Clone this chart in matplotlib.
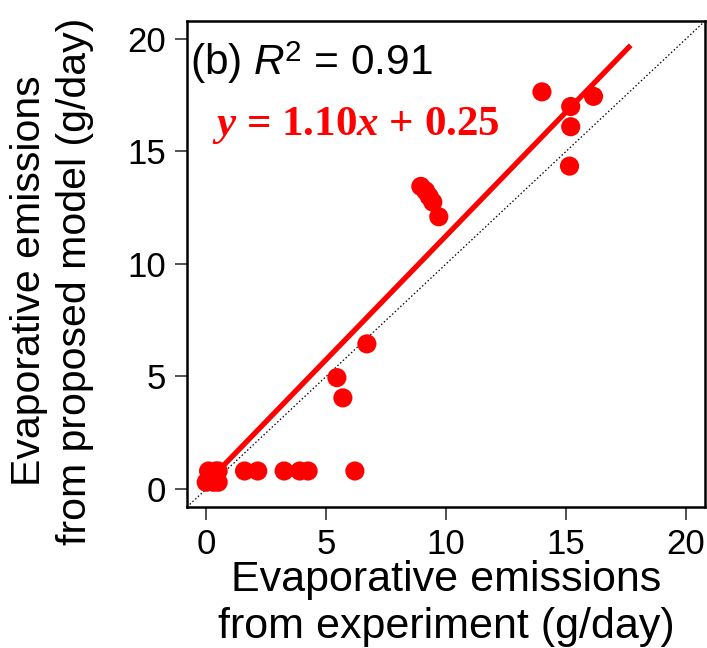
import matplotlib
matplotlib.use("Agg")
import matplotlib.pyplot as plt
import numpy as np

plt.rcParams["font.family"] = ["Liberation Sans", "DejaVu Sans"]
plt.rcParams["mathtext.fontset"] = "custom"
plt.rcParams["mathtext.rm"] = "Liberation Sans"
plt.rcParams["mathtext.sf"] = "Liberation Sans:italic"
plt.rcParams["mathtext.it"] = "Liberation Serif:italic:bold"

# measured vs. modelled evaporative emissions (g/day)
experiment = [0.0, 0.1, 0.3, 0.4, 0.5, 0.5,
              1.6, 2.15, 3.25, 3.9, 4.25, 6.2,
              5.45, 5.7, 6.7,
              8.95, 9.15, 9.3, 9.45, 9.7,
              14.0, 15.2, 16.15, 15.2, 15.15]
model = [0.3, 0.8, 0.3, 0.8, 0.3, 0.8,
         0.8, 0.8, 0.8, 0.8, 0.8, 0.8,
         4.95, 4.05, 6.45,
         13.45, 13.25, 13.0, 12.75, 12.1,
         17.65, 17.0, 17.45, 16.1, 14.35]

slope = 1.10
intercept = 0.25
r_squared = 0.91
fit_x = [0.0, 17.7]

fig = plt.figure(figsize=(7.07, 6.48), dpi=100)
ax = fig.add_axes([0.2645, 0.2176, 0.7327, 0.75])

ax.axline((0, 0), slope=1, color="black", lw=0.9, ls=(0, (1.2, 1.8)), zorder=1)
fx = np.array(fit_x)
ax.plot(fx, slope * fx + intercept, color="#ff0000", lw=3.8, solid_capstyle="butt", zorder=2)
ax.scatter(experiment, model, s=190, color="#ff0000", edgecolors="none", zorder=3)

ax.set_xlim(-0.8, 20.8)
ax.set_ylim(-0.8, 20.8)
ticks = [0, 5, 10, 15, 20]
ax.set_xticks(ticks)
ax.set_yticks(ticks)
ax.tick_params(labelsize=25, length=9, width=1.2, pad=6, color="#333333")
for side in ax.spines.values():
    side.set_linewidth(1.8)

ax.set_xlabel("Evaporative emissions\nfrom experiment (g/day)", fontsize=31, linespacing=1.2)
ax.set_ylabel("Evaporative emissions\nfrom proposed model (g/day)", fontsize=29.5, linespacing=1.25)
ax.xaxis.set_label_coords(0.5, -0.11)
ax.yaxis.set_label_coords(-0.18, 0.465)

ax.text(0.005, 0.962, r"(b) $\mathsf{R}^2$ = " + f"{r_squared:.2f}", transform=ax.transAxes,
        fontsize=30.5, va="top", ha="left")
ax.text(0.048, 0.785, f"$y$ = {slope:.2f}$x$ + {intercept:.2f}", transform=ax.transAxes,
        fontsize=31, va="center", ha="left", color="#ff0000",
        family="Liberation Serif", weight="bold")

fig.savefig("out.png", dpi=100)
